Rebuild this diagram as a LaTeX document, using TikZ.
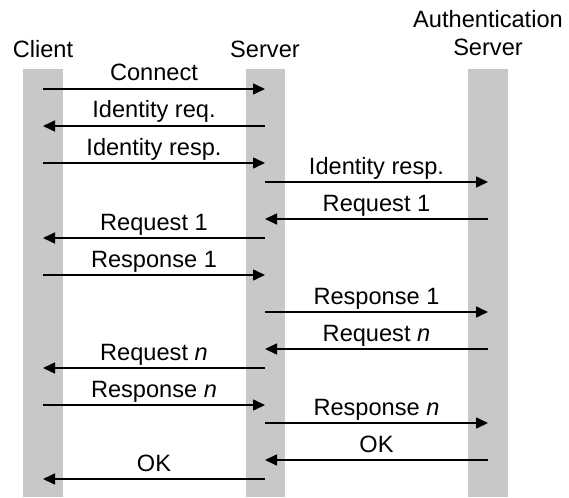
\documentclass[tikz,border=0pt]{standalone}
\usepackage{fontspec}
\setmainfont{Liberation Sans}
\usetikzlibrary{arrows.meta}
\definecolor{bargray}{RGB}{200,200,200}
\tikzset{
  lifeline/.style={fill=bargray, draw=none},
  msg/.style={line width=1.6pt, -{Triangle[length=12pt,width=11pt]}},
  lbl/.style={font=\fontsize{23.6}{28}\selectfont, inner sep=0pt, anchor=base, yshift=8pt},
  title/.style={font=\fontsize{23.6}{28}\selectfont, inner sep=0pt, anchor=base}
}
\begin{document}
\begin{tikzpicture}[x=1pt,y=-1pt]
\useasboundingbox (0,0) rectangle (569,497);
% lifelines
\fill[lifeline] (23,69) rectangle (63,497);
\fill[lifeline] (246,69) rectangle (285,497);
\fill[lifeline] (468,69) rectangle (508,497);
% titles
\node[title] (tc) at (43,58) {Client};
\node[title] (ts) at (265,58) {Server};
\node[title] (ta1) at (488,28) {Authentication};
\node[title] (ta2) at (488,56) {Server};
% endpoints
\foreach \n/\y in {1/89,2/126,3/163,6/238,7/275,10/368,11/405,14/479}{
  \coordinate (c\n) at (43,\y);
  \coordinate (s\n) at (265,\y);
}
\foreach \n/\y in {4/182,5/219,8/312,9/349,12/423,13/460}{
  \coordinate (s\n) at (265,\y);
  \coordinate (a\n) at (488,\y);
}
% messages
\draw[msg] (c1) -- node[lbl] {Connect} (s1);
\draw[msg] (s2) -- node[lbl] {Identity req.} (c2);
\draw[msg] (c3) -- node[lbl] {Identity resp.} (s3);
\draw[msg] (s4) -- node[lbl] {Identity resp.} (a4);
\draw[msg] (a5) -- node[lbl] {Request 1} (s5);
\draw[msg] (s6) -- node[lbl] {Request 1} (c6);
\draw[msg] (c7) -- node[lbl] {Response 1} (s7);
\draw[msg] (s8) -- node[lbl] {Response 1} (a8);
\draw[msg] (a9) -- node[lbl] {Request \textit{n}} (s9);
\draw[msg] (s10) -- node[lbl] {Request \textit{n}} (c10);
\draw[msg] (c11) -- node[lbl] {Response \textit{n}} (s11);
\draw[msg] (s12) -- node[lbl] {Response \textit{n}} (a12);
\draw[msg] (a13) -- node[lbl] {OK} (s13);
\draw[msg] (s14) -- node[lbl] {OK} (c14);
\end{tikzpicture}
\end{document}
